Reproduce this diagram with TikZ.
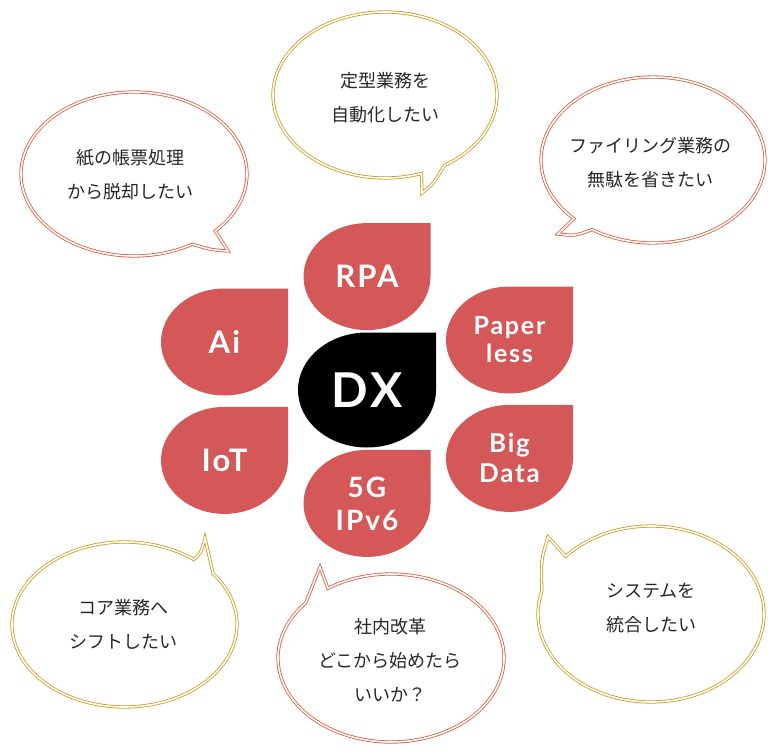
\documentclass[tikz,border=0pt]{standalone}
\usepackage{fontspec}
\setmainfont{Lato}[LetterSpace=7]
\newfontfamily\jpfont{Noto Sans CJK JP}
\usetikzlibrary{positioning}

\definecolor{petalred}{HTML}{D55859}
\definecolor{rust}{HTML}{E05A3B}
\definecolor{gold}{HTML}{CD9C1C}

% colour, centre, x radius, y radius, start, end, bend, tip
\newcommand{\speech}[8]{%
  \draw[bubble, #1] (#2) ++(#5:#3 and #4)
    arc[start angle=#5, end angle=#6, x radius=#3, y radius=#4]
    .. controls (#7) .. (#8) -- cycle;}

\begin{document}
\begin{tikzpicture}[
  x=1pt, y=-1pt,
  drop/.style 2 args={path picture={\fill[#1] (path picture bounding box.north east)
      -- (path picture bounding box.east) arc (0:-180:#2) arc (180:90:#2) -- cycle;}},
  petal/.style={inner sep=0pt, align=center, text=white, minimum width=127pt,
    minimum height=107pt, drop={petalred}{63.5pt and 53.5pt}},
  bubble/.style={line width=0.8pt, double=white, double distance=1.6pt},
  say/.style={align=center, text=black!85, font=\jpfont\fontsize{18}{34}\selectfont}
]
\useasboundingbox (0,0) rectangle (775,751);

% speech bubbles
\speech{rust}{134,174}{113}{82}{44}{-301}{212,250}{228,251}
\speech{gold}{385,95}{112}{83}{71}{418}{434,183}{422,193}
\speech{rust}{653,160}{112}{83}{135}{483}{575,236}{558,234}
\speech{gold}{124.5,624.5}{112.5}{82.5}{-38}{308}{201,553}{205,538}
\speech{rust}{391,658}{113}{84}{236}{581}{313,585}{320,567}
\speech{gold}{651,614}{113}{88}{221}{555}{541,560}{548,537}

\node[say] (nopaper) at (130,175) {紙の帳票処理\\から脱却したい};
\node[say] (automate) at (385,98) {定型業務を\\自動化したい};
\node[say] (filing) at (650,163) {ファイリング業務の\\無駄を省きたい};
\node[say] (corework) at (123,624) {コア業務へ\\シフトしたい};
\node[say] (reform) at (390,660) {社内改革\\どこから始めたら\\いいか？};
\node[say] (integrate) at (651,608) {システムを\\統合したい};

% petals
\node[petal, minimum width=138pt, minimum height=115pt, drop={black}{69pt and 57.5pt},
  font=\bfseries\fontsize{48}{48}\selectfont] (dx) at (367,390) {DX};
\node[petal, font=\bfseries\fontsize{31}{32}\selectfont, above=2pt of dx] (rpa) {RPA};
\node[petal, font=\bfseries\fontsize{28}{33}\selectfont, below=2pt of dx] (ipv) {5G\\IPv6};
\node[petal, font=\bfseries\fontsize{31}{32}\selectfont] (ai) at (224.5,342) {Ai};
\node[petal, font=\bfseries\fontsize{31}{32}\selectfont, below=11pt of ai] (iot) {IoT};
\node[petal, font=\bfseries\fontsize{25}{28}\selectfont] (paper) at (509.5,340) {Paper\\less};
\node[petal, font=\bfseries\fontsize{26}{30}\selectfont, below=11pt of paper] (bigdata) {Big\\Data};
\end{tikzpicture}
\end{document}
